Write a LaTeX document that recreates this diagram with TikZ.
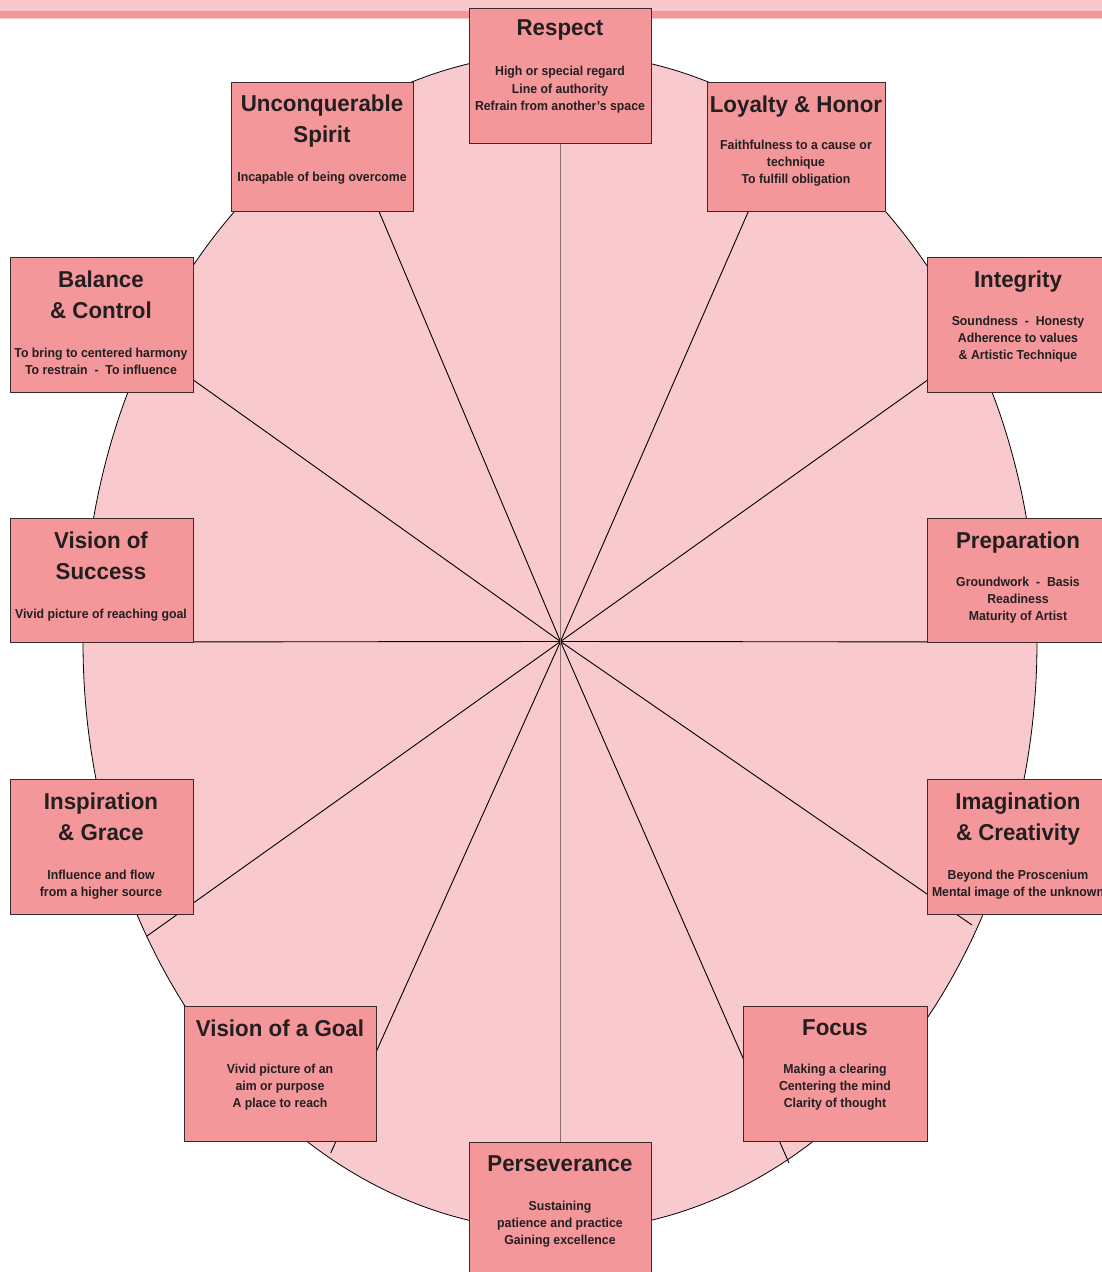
\documentclass[tikz,border=0pt]{standalone}
\usepackage{fontspec}
\newfontfamily\nft{Liberation Sans}[FakeStretch=0.97]
\newfontfamily\nfs{Liberation Sans}[FakeStretch=0.945]
\definecolor{bandlight}{HTML}{F9C8CB}
\definecolor{banddark}{HTML}{F4969A}
\definecolor{ellfill}{HTML}{F8CACD}
\definecolor{boxfill}{HTML}{F4979A}
\definecolor{boxline}{HTML}{3A2A2B}
\definecolor{vline}{HTML}{8C6E70}
\definecolor{txt}{HTML}{231F20}
\tikzset{
  pbox/.style={draw=boxline, fill=boxfill, line width=1.2pt, inner sep=0pt, anchor=north west},
  ttl/.style={anchor=north, inner sep=0pt, align=center, text=txt, font=\nft\bfseries\fontsize{23}{31}\selectfont},
  sub/.style={anchor=north, inner sep=0pt, align=center, text=txt, font=\nfs\bfseries\fontsize{13}{17.4}\selectfont},
  spoke/.style={draw=black, line width=0.9pt}
}
\begin{document}
\begin{tikzpicture}[x=1pt,y=-1pt]
\clip (0,0) rectangle (1102,1272);
\useasboundingbox (0,0) rectangle (1102,1272);
% top band
\fill[bandlight] (0,0) rectangle (1102,19);
\fill[banddark] (0,11) rectangle (1102,18);
% ellipse
\coordinate (c) at (560.5,641.5);
\draw[fill=ellfill, line width=0.8pt] (560,642) ellipse [x radius=477pt, y radius=589pt];
\coordinate (eup) at (560.5,53);
\coordinate (eun) at (340,119);
\coordinate (elo) at (787,123);
\coordinate (eba) at (147,347);
\coordinate (ein) at (974,347);
\coordinate (ele) at (83.5,642);
\coordinate (eri) at (1037.5,642);
\coordinate (eis) at (147,936);
\coordinate (eim) at (972,925);
\coordinate (evg) at (330.7,1153);
\coordinate (efo) at (789,1163);
\coordinate (edn) at (560.5,1231);
\foreach \e in {eun,elo,eba,ein,ele,eri,eis,eim,evg,efo}{
  \draw[spoke] (c) -- (\e);
}
\draw[draw=vline, line width=1.3pt] (eup) -- (edn);
% boxes
\node[pbox, minimum width=182pt, minimum height=135pt] (resp) at (469,8) {};
\node[pbox, minimum width=182pt, minimum height=129pt] (uncon) at (231,82) {};
\node[pbox, minimum width=178pt, minimum height=129pt] (loyal) at (707,82) {};
\node[pbox, minimum width=183pt, minimum height=135pt] (bal) at (10,257) {};
\node[pbox, minimum width=185pt, minimum height=135pt] (integ) at (927,257) {};
\node[pbox, minimum width=183pt, minimum height=124pt] (vsucc) at (10,518) {};
\node[pbox, minimum width=185pt, minimum height=124pt] (prep) at (927,518) {};
\node[pbox, minimum width=183pt, minimum height=135pt] (insp) at (10,779) {};
\node[pbox, minimum width=185pt, minimum height=135pt] (imag) at (927,779) {};
\node[pbox, minimum width=192pt, minimum height=135pt] (vgoal) at (184,1006) {};
\node[pbox, minimum width=184pt, minimum height=135pt] (focus) at (743,1006) {};
\node[pbox, minimum width=182pt, minimum height=140pt] (pers) at (469,1142) {};
% texts
\node[ttl] (resp-t) at (560,19.5) {Respect};
\node[sub] (resp-s) at (560,66) {High or special regard\\Line of authority\\Refrain from another’s space};
\node[ttl] (uncon-t) at (322,95) {Unconquerable\\Spirit};
\node[sub] (uncon-s) at (322,171.5) {Incapable of being overcome};
\node[ttl] (loyal-t) at (796,95.5) {Loyalty \& Honor};
\node[sub] (loyal-s) at (796,139.5) {Faithfulness to a cause or\\technique\\To fulfill obligation};
\node[ttl] (bal-t) at (101,270.5) {Balance\\\& Control};
\node[sub] (bal-s) at (101,347.5) {To bring to centered harmony\\To restrain~~-~~To influence};
\node[ttl] (integ-t) at (1018,270.5) {Integrity};
\node[sub] (integ-s) at (1018,315.5) {Soundness~~-~~Honesty\\Adherence to values\\\& Artistic Technique};
\node[ttl] (vsucc-t) at (101,531.5) {Vision of\\Success};
\node[sub] (vsucc-s) at (101,608.5) {Vivid picture of reaching goal};
\node[ttl] (prep-t) at (1018,531.5) {Preparation};
\node[sub] (prep-s) at (1018,576.5) {Groundwork~~-~~Basis\\Readiness\\Maturity of Artist};
\node[ttl] (insp-t) at (101,792.5) {Inspiration\\\& Grace};
\node[sub] (insp-s) at (101,869.5) {Influence and flow\\from a higher source};
\node[ttl] (imag-t) at (1018,792.5) {Imagination\\\& Creativity};
\node[sub] (imag-s) at (1018,869.5) {Beyond the Proscenium\\Mental image of the unknown};
\node[ttl] (vgoal-t) at (280,1019.5) {Vision of a Goal};
\node[sub] (vgoal-s) at (280,1063.5) {Vivid picture of an\\aim or purpose\\A place to reach};
\node[ttl] (focus-t) at (835,1019.5) {Focus};
\node[sub] (focus-s) at (835,1063.5) {Making a clearing\\Centering the mind\\Clarity of thought};
\node[ttl] (pers-t) at (560,1155.5) {Perseverance};
\node[sub] (pers-s) at (560,1200.5) {Sustaining\\patience and practice\\Gaining excellence};
\end{tikzpicture}
\end{document}
